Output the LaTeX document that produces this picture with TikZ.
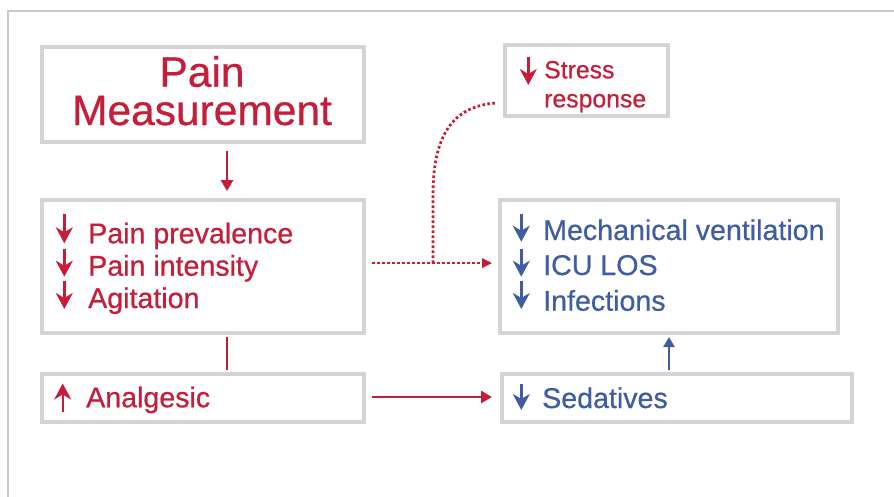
\documentclass[tikz,border=0pt]{standalone}
\usepackage{fontspec}
\setmainfont[FakeBold=0.6]{Liberation Sans}
\usetikzlibrary{arrows.meta}
\definecolor{pred}{HTML}{C41E3A}
\definecolor{pblue}{HTML}{3F5DA0}
\definecolor{bgray}{HTML}{D4D4D6}
\definecolor{fgray}{HTML}{C8C8CA}
\tikzset{
  box/.style={draw=bgray, line width=4pt, inner sep=0pt},
  txt/.style={inner sep=0pt, anchor=base west, font=\fontsize{28.6}{34}\selectfont},
  big/.style={inner sep=0pt, anchor=base, text=pred, font=\fontsize{42.5}{50}\selectfont},
  small/.style={inner sep=0pt, anchor=base west, text=pred, font=\fontsize{24.8}{30}\selectfont},
  rtxt/.style={txt, text=pred},
  btxt/.style={txt, text=pblue},
  glyph/.style={line width=2.4pt, -{Stealth[length=16pt,width=17pt,inset=5pt]}},
  rglyph/.style={glyph, draw=pred, fill=pred},
  bglyph/.style={glyph, draw=pblue, fill=pblue},
  redarr/.style={draw=pred, line width=2.8pt, -{Triangle[length=11pt,width=12pt]}},
  redline/.style={draw=pred, line width=2.8pt},
  reddot/.style={draw=pred, line width=2.8pt, dash pattern=on 2.6pt off 2.4pt},
  bluearr/.style={draw=pblue, line width=2.8pt, -{Triangle[length=10pt,width=11pt]}},
}
\begin{document}
\begin{tikzpicture}[x=1pt, y=-1pt]
\useasboundingbox (0,0) rectangle (894,496);
% frame
\draw[fgray, line width=1.4pt] (8,500) -- (8,11) -- (900,11);
% boxes
\node[box, minimum width=322pt, minimum height=95pt] (pm) at (203,94.5) {};
\node[box, minimum width=322pt, minimum height=133pt] (eff) at (203,266.5) {};
\node[box, minimum width=322pt, minimum height=48pt] (ana) at (203,398) {};
\node[box, minimum width=163pt, minimum height=71pt] (str) at (586.5,80.5) {};
\node[box, minimum width=338pt, minimum height=133pt] (out) at (669,266.5) {};
\node[box, minimum width=350pt, minimum height=48pt] (sed) at (677,398) {};
% texts
\node[big] (pm1) at (202,86.7) {Pain};
\node[big] (pm2) at (202,125) {Measurement};
\node[rtxt] (e1) at (88,243.3) {Pain prevalence};
\node[rtxt] (e2) at (88,275.7) {Pain intensity};
\node[rtxt] (e3) at (88,308) {Agitation};
\node[rtxt] (a1) at (86,407.3) {Analgesic};
\node[small] (s1) at (544,78.3) {Stress};
\node[small] (s2) at (544,107.3) {response};
\node[btxt] (o1) at (543,240) {Mechanical ventilation};
\node[btxt] (o2) at (543,275) {ICU LOS};
\node[btxt] (o3) at (543,310.7) {Infections};
\node[btxt] (sd) at (542,408) {Sedatives};
% inline arrows
\draw[rglyph] (64.3,214) -- (64.3,243.3);
\draw[rglyph] (64.3,248.5) -- (64.3,276.7);
\draw[rglyph] (64.3,281) -- (64.3,309);
\draw[rglyph] (62.7,412) -- (62.7,383.5);
\draw[rglyph] (528.3,57) -- (528.3,85);
\draw[bglyph] (521.3,214) -- (521.3,241.7);
\draw[bglyph] (521.3,248.5) -- (521.3,276.7);
\draw[bglyph] (521.3,281) -- (521.3,309);
\draw[bglyph] (521.3,383.5) -- (521.3,410);
% connectors
\draw[redarr] ([xshift=24pt,yshift=-7pt]pm.south) -- ([xshift=24pt,yshift=7pt]eff.north);
\draw[redline] ([xshift=24pt,yshift=-2pt]eff.south) -- ([xshift=24pt,yshift=2pt]ana.north);
\draw[redarr] ([xshift=6pt,yshift=1pt]ana.east) -- ([xshift=-8pt,yshift=1pt]sed.west);
\draw[reddot] ([xshift=6pt,yshift=3.5pt]eff.east) -- ([xshift=-12pt,yshift=3.5pt]out.west);
\draw[draw=pred, fill=pred, line width=0pt, -{Triangle[length=10pt,width=10pt]}] ([xshift=-14pt,yshift=3.5pt]out.west) -- ([xshift=-6pt,yshift=3.5pt]out.west);
\coordinate (j) at (433,263);
\coordinate (sj) at ([xshift=-7pt,yshift=-22.5pt]str.west);
\draw[reddot] (j) -- (433,195) .. controls (433,128) and (458,106) .. (sj);
\draw[bluearr] ([xshift=-8pt,yshift=2pt]sed.north) -- ([yshift=-2pt]out.south);
\end{tikzpicture}
\end{document}
